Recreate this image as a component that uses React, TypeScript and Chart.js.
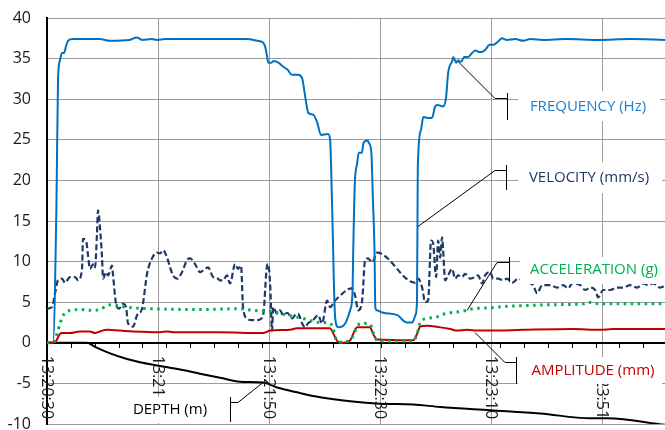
import React, { useEffect, useRef } from "react";
import { Chart, registerables } from "chart.js";
Chart.register(...registerables);

// ---- axis ----
const timeLabels = ["13:20:30", "13:21", "13:21:50", "13:22:30", "13:23:10", "13:23:51"];
const LABEL_STEP = 14.1; // samples between time labels
const MINOR_STEP = 3.03; // samples between minor tick marks
const X_MAX = 78.5;
const Y_MIN = -10;
const Y_MAX = 40;

// ---- series (x = sample position, y = value) ----
const freqX = [0, 0.76, 1.2, 1.4, 1.65, 1.91, 2.16, 2.41, 2.67, 3.3, 6.7, 8, 10.5, 11.4, 12.1, 13.3, 14, 15, 25.4, 26.7, 27.4, 27.7, 27.95, 28.1, 28.5, 28.8, 29.4, 30.0, 30.6, 31.1, 31.9, 32.4, 32.8, 33.2, 33.8, 34.3, 34.8, 35.7, 35.96, 36.2, 36.6, 37.0, 37.9, 38.5, 38.8, 38.9, 39.1, 39.4, 39.6, 40.0, 40.2, 40.7, 40.9, 41.2, 41.4, 41.6, 41.7, 41.9, 42.7, 44.5, 45.7, 46.4, 46.8, 47.0, 47.1, 47.5, 47.8, 48.4, 48.9, 49.3, 49.6, 50.3, 50.7, 50.95, 51.5, 51.6, 51.97, 52.2, 52.6, 53.0, 53.5, 54.0, 54.4, 55.0, 55.7, 56.2, 56.7, 57.3, 57.8, 58.4, 59.5, 60.5, 61.4, 63, 66, 70, 74, 78.5];
const freqY = [0, 0, 17, 32.4, 34.8, 35.7, 35.7, 36.5, 37.2, 37.4, 37.4, 37.2, 37.3, 37.6, 37.3, 37.4, 37.3, 37.4, 37.4, 37.2, 37.0, 36.5, 35.3, 34.5, 34.5, 34.7, 34.5, 34.0, 33.6, 33.0, 33.0, 32.6, 30.3, 28.3, 28.1, 27.2, 25.6, 25.7, 25.0, 17.5, 3.1, 1.9, 2.4, 4.0, 6.1, 11.4, 19.6, 22.1, 23.4, 23.4, 24.6, 24.9, 24.6, 23.4, 17.6, 11.4, 4.4, 4.0, 3.7, 3.4, 2.5, 2.5, 3.4, 5.2, 21.6, 26.2, 27.8, 27.7, 27.7, 29.1, 29.3, 29.1, 30.3, 33.2, 34.8, 35.2, 34.5, 34.8, 34.6, 35.2, 35.2, 35.7, 36.0, 35.8, 36.1, 36.7, 36.7, 37.1, 37.5, 37.3, 37.4, 37.2, 37.4, 37.3, 37.4, 37.3, 37.4, 37.3];

const velX = [0, 0.64, 1.02, 1.4, 1.91, 2.29, 2.92, 3.56, 3.94, 4.45, 4.57, 4.96, 5.21, 5.46, 5.72, 5.97, 6.1, 6.35, 6.48, 6.73, 6.99, 7.12, 7.5, 7.75, 8.26, 8.39, 8.77, 9.15, 9.66, 10.04, 10.29, 10.93, 11.44, 12.07, 12.71, 13.34, 13.98, 14.36, 14.74, 15.25, 15.63, 16.01, 16.52, 17.15, 17.79, 18.17, 18.81, 19.44, 20.08, 20.46, 21.09, 21.73, 21.98, 22.36, 22.87, 23.25, 23.89, 24.27, 24.65, 24.9, 25.41, 26.05, 26.81, 27.45, 27.95, 28.08, 28.34, 28.59, 28.72, 29.22, 29.61, 29.99, 30.5, 31.13, 31.51, 31.89, 32.4, 32.78, 33.16, 33.8, 34.43, 34.94, 35.58, 35.96, 36.6, 37.23, 38.25, 38.75, 39.14, 39.52, 40.03, 40.41, 40.79, 41.3, 41.93, 46.76, 47.14, 47.65, 48.03, 48.41, 48.79, 49.05, 49.43, 49.68, 49.94, 50.19, 50.32, 50.57, 50.95, 51.46, 51.84, 52.22, 52.73, 53.11, 53.75, 54.13, 54.76, 55.27, 55.65, 56.29, 56.67, 57.31, 57.94, 58.45, 59.09, 59.85, 60.74, 61.75, 62.26, 62.9, 63.91, 64.8, 65.57, 66.2, 66.71, 67.73, 68.36, 69.0, 69.63, 70.01, 70.65, 71.54, 72.43, 73.19, 74.08, 74.97, 75.73, 76.37, 77.0, 77.89, 78.5];
const velY = [4.2, 4.4, 6.1, 7.7, 7.9, 7.4, 8.1, 8.1, 7.7, 9.1, 12.8, 12.6, 10.8, 9.1, 9.5, 9.7, 9.3, 13.5, 16.3, 14.2, 10.5, 7.9, 8.7, 8.3, 9.5, 8.3, 4.8, 4.2, 4.8, 4.4, 2.4, 2.0, 3.4, 4.2, 8.5, 10.4, 11.1, 11.0, 11.4, 10.5, 9.3, 8.3, 7.9, 8.7, 10.2, 10.4, 9.7, 8.7, 9.1, 9.3, 8.1, 7.9, 7.7, 7.7, 8.3, 7.3, 9.7, 9.1, 9.5, 4.4, 3.0, 2.8, 2.8, 3.4, 9.5, 9.7, 7.3, 1.5, 4.4, 3.6, 4.0, 3.4, 3.7, 3.0, 3.4, 3.6, 2.4, 1.9, 2.4, 2.8, 3.4, 2.4, 5.2, 4.4, 5.2, 5.8, 6.6, 6.7, 5.8, 4.0, 5.2, 10.2, 10.4, 9.9, 11.1, 7.4, 7.9, 6.8, 5.0, 5.2, 12.6, 12.2, 8.1, 12.6, 10.5, 13.0, 11.4, 7.7, 8.3, 9.1, 7.9, 8.3, 8.1, 8.5, 7.9, 8.0, 8.3, 7.3, 8.3, 8.7, 7.9, 7.9, 7.7, 7.9, 7.4, 7.9, 7.5, 7.1, 6.1, 7.1, 7.1, 6.8, 7.1, 6.7, 7.3, 7.1, 6.5, 6.8, 6.5, 5.6, 6.5, 6.5, 6.8, 6.8, 7.1, 6.8, 7.3, 7.1, 7.3, 6.8, 7.0];

const accX = [0, 0.76, 1.27, 1.65, 2.29, 3.18, 4.19, 5.46, 6.73, 7.62, 8.26, 9.28, 10.93, 13.09, 19.44, 24.52, 26.18, 28.34, 30.5, 32.53, 34.69, 35.96, 36.34, 36.6, 37.23, 38.5, 39.39, 39.77, 41.04, 41.42, 41.93, 43.2, 46.51, 47.01, 47.4, 48.28, 49.56, 49.94, 51.21, 52.86, 54.13, 56.29, 58.45, 61.37, 64.8, 68.11, 68.61, 70.27, 78.5];
const accY = [0, 0, 1.1, 2.4, 3.7, 4.0, 4.1, 4.0, 4.1, 4.6, 4.7, 4.5, 4.3, 4.2, 4.1, 4.2, 4.0, 3.9, 3.4, 3.0, 2.5, 2.4, 1.8, 0.7, 0.1, 0.3, 1.9, 2.4, 2.3, 1.3, 0.3, 0.2, 0.2, 1.1, 2.5, 3.0, 3.2, 3.4, 3.7, 3.9, 4.2, 4.3, 4.5, 4.6, 4.7, 4.8, 5.0, 4.8, 4.8];

const ampX = [0, 1.02, 1.65, 1.91, 2.92, 4.19, 5.46, 6.1, 6.73, 7.62, 9.28, 10.93, 14.36, 15.25, 16.01, 21.73, 27.45, 28.34, 30.88, 31.77, 35.96, 36.34, 36.98, 37.61, 38.5, 39.39, 41.04, 41.42, 41.93, 46.51, 47.01, 47.4, 48.28, 49.94, 51.21, 52.1, 53.37, 54.64, 56.29, 60.48, 66.84, 70.27, 71.92, 78.5];
const ampY = [0, 0.1, 1.1, 1.2, 1.2, 1.4, 1.4, 1.2, 1.4, 1.6, 1.5, 1.4, 1.3, 1.4, 1.3, 1.3, 1.2, 1.5, 1.6, 1.8, 1.8, 1.2, 0.1, 0.0, 0.3, 1.9, 1.9, 1.1, 0.4, 0.3, 1.1, 2.0, 2.1, 1.9, 1.7, 1.5, 1.6, 1.5, 1.5, 1.6, 1.7, 1.6, 1.7, 1.7];

const depthX = [0, 5.08, 6.1, 8.01, 10.17, 11.82, 13.98, 16.9, 19.44, 21.98, 24.52, 27.45, 29.22, 31.77, 34.69, 38.5, 42.31, 46.51, 49.94, 56.29, 62.64, 69.0, 71.16, 78.5];
const depthY = [0, 0, -0.5, -1.3, -2.0, -2.4, -2.8, -3.3, -3.8, -4.3, -4.8, -4.9, -5.5, -6.1, -6.7, -7.2, -7.5, -7.6, -7.9, -8.3, -8.7, -9.3, -9.3, -10.1];

// ---- styling ----
const FONT = '"Open Sans", "Noto Sans", sans-serif';
const C_FREQ = "#0070C0";
const C_VEL = "#203864";
const C_ACC = "#00B050";
const C_AMP = "#C00000";
const C_DEPTH = "#000000";
const GRID = "#9b9b9b";

type Note = {
  text: string;
  color: string;
  box: [number, number, number, number];
  cx: number;
  cy: number;
  leader: [number, number][];
  bar: [number, number, number];
};

// label boxes and leader lines (pixel positions on the canvas)
const notes: Note[] = [
  { text: "FREQUENCY (Hz)", color: "#1F7FCF", box: [518, 91, 660, 121], cx: 588, cy: 107, leader: [[458, 61], [495, 98], [507, 98]], bar: [507, 93, 120] },
  { text: "VELOCITY (mm/s)", color: C_VEL, box: [518, 162, 662, 193], cx: 589, cy: 178, leader: [[418, 226], [495, 170], [506, 170]], bar: [506, 165, 190] },
  { text: "ACCELERATION (g)", color: C_ACC, box: [520, 257, 665, 284], cx: 594, cy: 270, leader: [[467, 310], [497, 262], [509, 262]], bar: [509, 257, 282] },
  { text: "AMPLITUDE (mm)", color: C_AMP, box: [518, 357, 662, 384], cx: 593, cy: 371, leader: [[475, 332], [505, 362], [516, 362]], bar: [516, 357, 384] },
  { text: "DEPTH (m)", color: "#000000", box: [122, 397, 222, 423], cx: 170, cy: 410, leader: [[263, 382], [238, 402], [230, 402]], bar: [230, 397, 422] },
];

const pts = (xs: number[], ys: number[]) => xs.map((x, i) => ({ x, y: ys[i] }));

export default function App() {
  const ref = useRef<HTMLCanvasElement>(null);

  useEffect(() => {
    const canvas = ref.current;
    if (!canvas) return;
    const labelValues = timeLabels.map((_, i) => i * LABEL_STEP);

    const overlay = {
      id: "overlay",
      beforeDatasetsDraw(chart: any) {
        const { ctx, chartArea, scales } = chart;
        const x = scales.x;
        const y = scales.y;
        const y0 = Math.round(y.getPixelForValue(0));
        ctx.save();
        ctx.strokeStyle = "#000";
        ctx.lineWidth = 1;
        ctx.beginPath();
        for (let v = 0; v <= X_MAX + 0.001; v += MINOR_STEP) {
          const px = Math.round(x.getPixelForValue(v)) + 0.5;
          ctx.moveTo(px, y0);
          ctx.lineTo(px, y0 + 5);
        }
        ctx.stroke();
        ctx.lineWidth = 2;
        ctx.beginPath();
        ctx.moveTo(chartArea.left, y0);
        ctx.lineTo(chartArea.right, y0);
        ctx.stroke();
        ctx.restore();
      },
      afterDraw(chart: any) {
        const { ctx, scales } = chart;
        const x = scales.x;
        const y = scales.y;
        const y0 = y.getPixelForValue(0);
        ctx.save();
        // rotated time labels
        ctx.font = `16px ${FONT}`;
        ctx.fillStyle = "#1a1a1a";
        labelValues.forEach((v, i) => {
          const px = x.getPixelForValue(v);
          ctx.save();
          ctx.translate(px, y0 + 13);
          ctx.rotate(Math.PI / 2);
          ctx.textAlign = "left";
          ctx.textBaseline = "middle";
          ctx.fillText(timeLabels[i], 0, 0);
          ctx.restore();
        });
        // data label boxes with leader lines
        notes.forEach((n) => {
          const [l, t, r, b] = n.box;
          ctx.fillStyle = "#ffffff";
          ctx.fillRect(l, t, r - l, b - t);
        });
        ctx.strokeStyle = "#000";
        ctx.lineWidth = 1;
        notes.forEach((n) => {
          ctx.beginPath();
          n.leader.forEach(([px, py], i) => (i === 0 ? ctx.moveTo(px, py + 0.5) : ctx.lineTo(px, py + 0.5)));
          ctx.stroke();
          ctx.beginPath();
          ctx.moveTo(n.bar[0] + 0.5, n.bar[1]);
          ctx.lineTo(n.bar[0] + 0.5, n.bar[2]);
          ctx.stroke();
        });
        ctx.font = `15px ${FONT}`;
        ctx.textAlign = "center";
        ctx.textBaseline = "middle";
        notes.forEach((n) => {
          ctx.fillStyle = n.color;
          ctx.fillText(n.text, n.cx, n.cy);
        });
        ctx.restore();
      },
    };

    const chart = new Chart(canvas, {
      type: "line",
      data: {
        datasets: [
          { label: "ACCELERATION (g)", data: pts(accX, accY), borderColor: C_ACC, borderWidth: 3, borderDash: [2.5, 4.5], order: 0 },
          { label: "AMPLITUDE (mm)", data: pts(ampX, ampY), borderColor: C_AMP, borderWidth: 2, order: 1 },
          { label: "FREQUENCY (Hz)", data: pts(freqX, freqY), borderColor: C_FREQ, borderWidth: 2, order: 2 },
          { label: "VELOCITY (mm/s)", data: pts(velX, velY), borderColor: C_VEL, borderWidth: 2.2, borderDash: [6, 3], order: 3 },
          { label: "DEPTH (m)", data: pts(depthX, depthY), borderColor: C_DEPTH, borderWidth: 2, order: 4 },
        ],
      },
      options: {
        responsive: false,
        animation: false,
        devicePixelRatio: 1,
        layout: { padding: { top: 18, right: 0, bottom: 6, left: 0 } },
        elements: {
          point: { radius: 0, hoverRadius: 0 },
          line: { cubicInterpolationMode: "monotone", fill: false },
        },
        plugins: { legend: { display: false }, tooltip: { enabled: false } },
        scales: {
          x: {
            type: "linear",
            min: 0,
            max: X_MAX,
            ticks: { display: false },
            grid: { color: GRID, lineWidth: 1, drawTicks: false },
            border: { display: false },
            afterBuildTicks: (s: any) => {
              s.ticks = labelValues.map((v) => ({ value: v }));
            },
          },
          y: {
            min: Y_MIN,
            max: Y_MAX,
            ticks: { stepSize: 5, padding: 16, color: "#1a1a1a", font: { family: FONT, size: 16 } },
            grid: { color: GRID, lineWidth: 1, drawTicks: false },
            border: { color: "#000", width: 2 },
            afterFit: (s: any) => {
              s.width = 47;
              s.paddingTop = 0;
              s.paddingBottom = 0;
            },
          },
        },
      },
      plugins: [overlay],
    } as any);

    return () => chart.destroy();
  }, []);

  return (
    <div style={{ position: "absolute", left: 0, top: 0, width: 665, height: 430, background: "#fff" }}>
      <canvas ref={ref} width={665} height={430} />
    </div>
  );
}
